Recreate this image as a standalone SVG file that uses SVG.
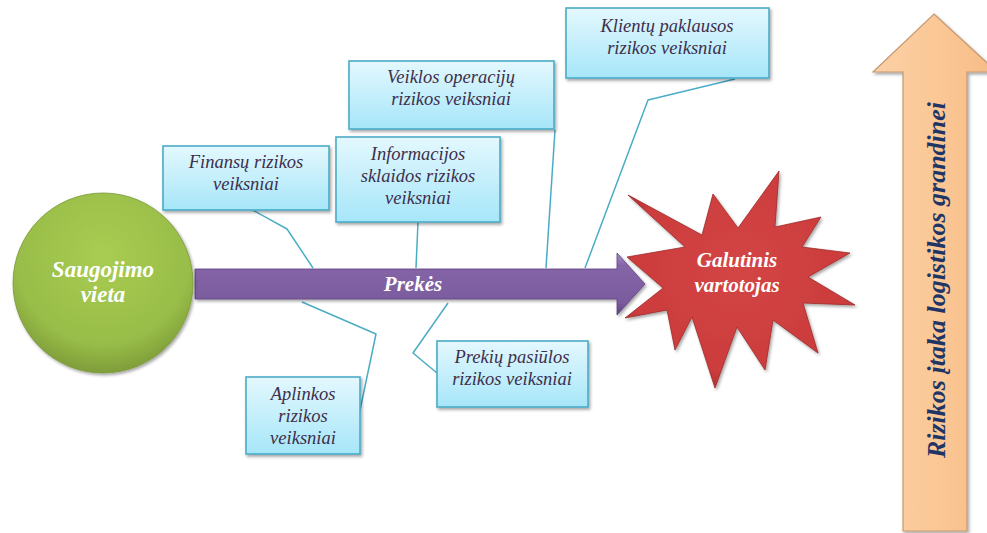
<svg xmlns="http://www.w3.org/2000/svg" width="987" height="533" viewBox="0 0 987 533">
  <defs>
    <linearGradient id="boxFill" x1="0" y1="0" x2="0" y2="1">
      <stop offset="0" stop-color="#e4f8fe"/>
      <stop offset="1" stop-color="#a6e6f9"/>
    </linearGradient>
    <radialGradient id="circleFill" cx="0.5" cy="0.35" r="0.65">
      <stop offset="0" stop-color="#a9cc52"/>
      <stop offset="0.75" stop-color="#98bd48"/>
      <stop offset="1" stop-color="#7f9d3a"/>
    </radialGradient>
    <linearGradient id="purpleFill" x1="0" y1="0" x2="0" y2="1">
      <stop offset="0" stop-color="#a58cc3"/>
      <stop offset="0.2" stop-color="#8565a8"/>
      <stop offset="0.8" stop-color="#7a5b9d"/>
      <stop offset="1" stop-color="#5e4380"/>
    </linearGradient>
    <radialGradient id="starFill" cx="0.5" cy="0.45" r="0.6">
      <stop offset="0" stop-color="#d34545"/>
      <stop offset="0.8" stop-color="#cc3c3c"/>
      <stop offset="1" stop-color="#a82e2e"/>
    </radialGradient>
    <linearGradient id="orangeFill" x1="0" y1="0" x2="1" y2="0">
      <stop offset="0" stop-color="#fbd0a6"/>
      <stop offset="0.5" stop-color="#fbc896"/>
      <stop offset="1" stop-color="#f6bb85"/>
    </linearGradient>
    <filter id="shadow" x="-10%" y="-10%" width="130%" height="130%">
      <feDropShadow dx="1.5" dy="2" stdDeviation="1.5" flood-color="#000" flood-opacity="0.35"/>
    </filter>
  </defs>
  <style>
    text { font-family: 'Liberation Serif', 'Times New Roman', serif; }
    .box { fill: url(#boxFill); stroke: #4bacc6; stroke-width: 1.6; filter: url(#shadow); }
    .boxText { font-style: italic; font-size: 18.5px; fill: #3e2f4c; text-anchor: middle; }
    .whiteText { font-style: italic; font-weight: bold; fill: #ffffff; text-anchor: middle; }
    .link { fill: none; stroke: #4bacc6; stroke-width: 1.5; stroke-linejoin: round; }
  </style>

  <rect width="987" height="533" fill="#ffffff"/>

  <!-- vertical risk-influence arrow -->
  <g id="risk-arrow">
    <polygon points="934,14 997,72 967,72 967,531 903,531 903,72 873,72" fill="url(#orangeFill)" stroke="#c49a74" stroke-width="1.2" filter="url(#shadow)"/>
    <text transform="translate(945,280) rotate(-90)" font-style="italic" font-weight="bold" font-size="26" fill="#1f3566" text-anchor="middle">Rizikos įtaka logistikos grandinei</text>
  </g>

  <!-- connectors from risk factors to the goods flow -->
  <g id="connectors">
    <polyline class="link" points="249,208 287,229 313,268"/>
    <polyline class="link" points="418,222 416,268"/>
    <polyline class="link" points="555,130 546,268"/>
    <polyline class="link" points="735,79 648,100 585,268"/>
    <polyline class="link" points="302,302 376,334 359,415"/>
    <polyline class="link" points="448,303 413,353 437,373"/>
  </g>

  <!-- goods flow arrow -->
  <g id="prekes">
    <polygon points="195,269 617,269 617,253 645,284 617,315 617,299 195,299" fill="url(#purpleFill)" stroke="#5e4380" stroke-width="0.8" filter="url(#shadow)"/>
    <text class="whiteText" x="413" y="291" font-size="21">Prekės</text>
  </g>

  <!-- storage place -->
  <g id="saugojimo-vieta">
    <circle cx="103" cy="283" r="90" fill="url(#circleFill)" stroke="#7a9838" stroke-width="0.8" filter="url(#shadow)"/>
    <text class="whiteText" font-size="23" x="103" y="277">Saugojimo</text>
    <text class="whiteText" font-size="23" x="103" y="302">vieta</text>
  </g>

  <!-- end consumer -->
  <g id="galutinis-vartotojas">
    <polygon points="628,195 702,235 713,194 738,228 779,171 775,227 821,217 802,247 850,253 808,277 855,305 803,303 818,353 773,320 765,370 737,327 715,388 692,317 675,350 667,310 625,318 663,288 627,257 685,247" fill="url(#starFill)" stroke="#9e2a2a" stroke-width="0.8" stroke-linejoin="miter" filter="url(#shadow)"/>
    <text class="whiteText" font-size="21" x="737" y="267">Galutinis</text>
    <text class="whiteText" font-size="21" x="737" y="292">vartotojas</text>
  </g>

  <!-- risk factor boxes -->
  <g id="klientu-paklausos">
    <rect class="box" x="566" y="8" width="203" height="70"/>
    <text class="boxText" x="667" y="32">Klientų paklausos</text>
    <text class="boxText" x="667" y="54">rizikos veiksniai</text>
  </g>

  <g id="veiklos-operaciju">
    <rect class="box" x="349" y="61" width="205" height="68"/>
    <text class="boxText" x="451" y="83">Veiklos operacijų</text>
    <text class="boxText" x="451" y="105">rizikos veiksniai</text>
  </g>

  <g id="informacijos-sklaidos">
    <rect class="box" x="336" y="137" width="164" height="85"/>
    <text class="boxText" x="418" y="160">Informacijos</text>
    <text class="boxText" x="418" y="182">sklaidos rizikos</text>
    <text class="boxText" x="418" y="204">veiksniai</text>
  </g>

  <g id="finansu">
    <rect class="box" x="163" y="146" width="166" height="64"/>
    <text class="boxText" x="246" y="168">Finansų rizikos</text>
    <text class="boxText" x="246" y="190">veiksniai</text>
  </g>

  <g id="aplinkos">
    <rect class="box" x="246" y="377" width="114" height="77"/>
    <text class="boxText" x="303" y="400">Aplinkos</text>
    <text class="boxText" x="303" y="422">rizikos</text>
    <text class="boxText" x="303" y="444">veiksniai</text>
  </g>

  <g id="prekiu-pasiulos">
    <rect class="box" x="437" y="341" width="151" height="66"/>
    <text class="boxText" x="512" y="363">Prekių pasiūlos</text>
    <text class="boxText" x="512" y="385">rizikos veiksniai</text>
  </g>
</svg>
